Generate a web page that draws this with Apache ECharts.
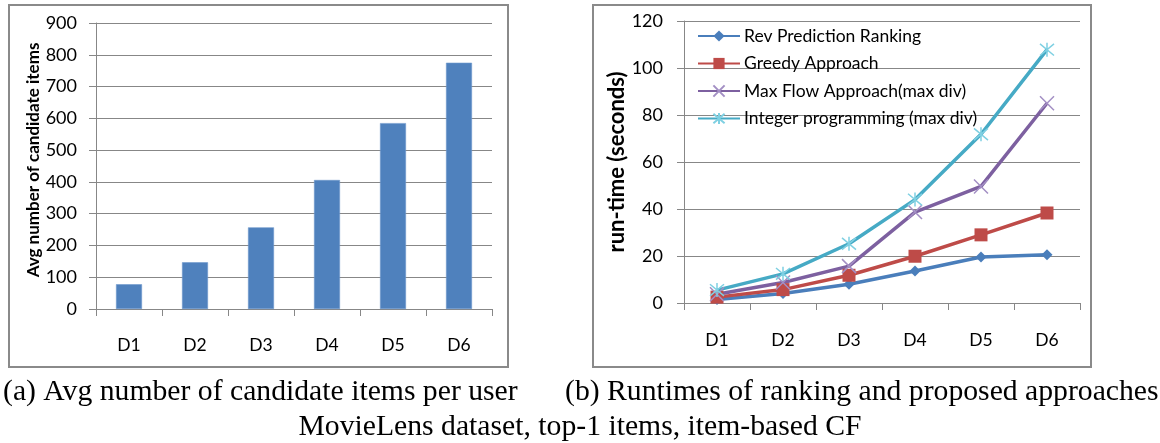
<!DOCTYPE html>
<html>
<head>
<meta charset="utf-8">
<script src="https://cdn.jsdelivr.net/npm/echarts@6/dist/echarts.min.js"></script>
<style>
  html, body { margin: 0; padding: 0; background: #fff; }
  #chart { width: 1160px; height: 443px; }
</style>
</head>
<body>
<div id="chart"></div>
<script>
// Datasets shared by both panels
const categories = ['D1', 'D2', 'D3', 'D4', 'D5', 'D6'];

// (a) average number of candidate items per user
const avgCandidates = [78, 147, 257, 406, 585, 775];
const candidateTicks = [0, 100, 200, 300, 400, 500, 600, 700, 800, 900];

// (b) run-time in seconds
const revPrediction = [1.5, 4, 8, 13.6, 19.6, 20.5];
const greedy = [2.5, 5.7, 11.8, 19.9, 29, 38.3];
const maxFlow = [3.7, 8.7, 15.7, 38.7, 49.6, 85];
const integerProg = [5.5, 12.4, 25.2, 44, 71.8, 107.8];
const runtimeTicks = [0, 20, 40, 60, 80, 100, 120];

const seriesNames = [
  'Rev Prediction Ranking',
  'Greedy Approach',
  'Max Flow Approach(max div)',
  'Integer programming (max div)'
];

const captionA = '(a) Avg number of candidate items per user';
const captionB = '(b) Runtimes of ranking and proposed approaches';
const captionMain = 'MovieLens dataset, top-1 items, item-based CF';

const uiFont = 'Lato';
const serif = 'Liberation Serif';
const gridGray = '#878787';

const crossPath = 'path://M0,0L10,10M10,0L0,10';
const starPath = 'path://M0,0L10,10M10,0L0,10M5,-1L5,11';

const chart = echarts.init(document.getElementById('chart'), null, { renderer: 'canvas' });

function valueAxis(gridIndex, ticks, name, nameGap, nameSize, namePad, labelMargin) {
  return {
    type: 'value',
    gridIndex,
    min: ticks[0],
    max: ticks[ticks.length - 1],
    interval: ticks[1] - ticks[0],
    name,
    nameLocation: 'middle',
    nameRotate: 90,
    nameGap,
    nameTextStyle: {
      fontFamily: uiFont, fontWeight: 'bold', fontSize: nameSize, color: '#000',
      padding: namePad
    },
    axisLine: { show: true, lineStyle: { color: gridGray, width: 1 } },
    axisTick: { show: true, length: 7, lineStyle: { color: gridGray } },
    splitLine: { show: true, lineStyle: { color: gridGray, width: 1 } },
    axisLabel: { fontFamily: uiFont, fontSize: 18, color: '#000', margin: labelMargin }
  };
}

function categoryAxis(gridIndex, margin) {
  return {
    type: 'category',
    gridIndex,
    data: categories,
    boundaryGap: true,
    axisLine: { show: true, lineStyle: { color: gridGray, width: 1 } },
    axisTick: { show: true, length: 7, interval: 0, lineStyle: { color: gridGray } },
    axisLabel: { fontFamily: uiFont, fontSize: 17.5, color: '#000', margin, interval: 0 }
  };
}

const captionStyle = { fontFamily: serif, fontSize: 29.7, fontWeight: 'normal', color: '#000' };

const option = {
  animation: false,
  backgroundColor: '#fff',
  grid: [
    { left: 96, top: 23, width: 396, height: 286 },
    { left: 684, top: 21, width: 396, height: 282 }
  ],
  xAxis: [categoryAxis(0, 27), categoryAxis(1, 28)],
  yAxis: [
    valueAxis(0, candidateTicks, 'Avg number of candidate items', 54, 17, [0, 0, 0, 12], 19),
    valueAxis(1, runtimeTicks, 'run-time (seconds)', 47, 22, [0, 0, 0, 0], 21)
  ],
  legend: {
    orient: 'vertical',
    left: 697,
    top: 27,
    padding: 0,
    itemWidth: 42,
    itemHeight: 14,
    itemGap: 9.5,
    textStyle: { fontFamily: uiFont, fontSize: 17.5, color: '#000', padding: [0, 0, 0, -1] },
    data: seriesNames
  },
  title: [
    { text: captionA, left: 3, top: 377, padding: 0, textStyle: captionStyle },
    { text: captionB, left: 565, top: 377, padding: 0, textStyle: captionStyle },
    { text: captionMain, left: 'center', top: 412, padding: 0, textStyle: captionStyle }
  ],
  graphic: [
    {
      type: 'rect', silent: true, z: -1,
      shape: { x: 9, y: 5, width: 499, height: 362 },
      style: { fill: 'none', stroke: '#8a8a8a', lineWidth: 2 }
    },
    {
      type: 'rect', silent: true, z: -1,
      shape: { x: 593, y: 5, width: 498, height: 362 },
      style: { fill: 'none', stroke: '#8a8a8a', lineWidth: 2 }
    }
  ],
  series: [
    {
      type: 'bar',
      xAxisIndex: 0, yAxisIndex: 0,
      data: avgCandidates,
      barWidth: 26,
      itemStyle: { color: '#4F81BD', borderColor: '#6f98cc', borderWidth: 0.6 }
    },
    {
      name: seriesNames[0], type: 'line', xAxisIndex: 1, yAxisIndex: 1,
      data: revPrediction,
      symbol: 'diamond', symbolSize: 11,
      lineStyle: { color: '#4A7EBB', width: 3.5 },
      itemStyle: { color: '#4A7EBB' }
    },
    {
      name: seriesNames[1], type: 'line', xAxisIndex: 1, yAxisIndex: 1,
      data: greedy,
      symbol: 'rect', symbolSize: 13,
      lineStyle: { color: '#BE4B48', width: 3.5 },
      itemStyle: { color: '#BE4B48' }
    },
    {
      name: seriesNames[2], type: 'line', xAxisIndex: 1, yAxisIndex: 1,
      data: maxFlow,
      symbol: crossPath, symbolSize: 14,
      lineStyle: { color: '#7D60A0', width: 3.5 },
      itemStyle: { color: 'rgba(0,0,0,0)', borderColor: '#A38FC4', borderWidth: 1.5 }
    },
    {
      name: seriesNames[3], type: 'line', xAxisIndex: 1, yAxisIndex: 1,
      data: integerProg,
      symbol: starPath, symbolSize: 14,
      lineStyle: { color: '#46AAC5', width: 3.5 },
      itemStyle: { color: 'rgba(0,0,0,0)', borderColor: '#7FD0E2', borderWidth: 1.5 }
    }
  ]
};

chart.setOption(option);
</script>
</body>
</html>
